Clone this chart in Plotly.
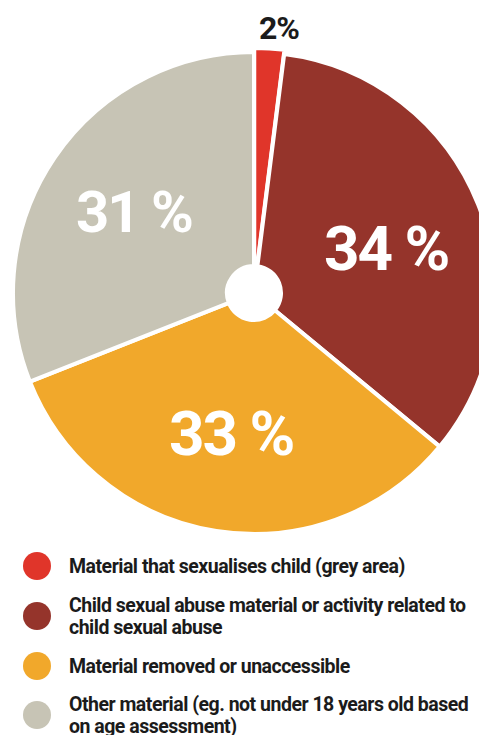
import math
import plotly.graph_objects as go

# ---- data ----
categories = [
    "Material that sexualises child (grey area)",
    "Child sexual abuse material or activity related to child sexual abuse",
    "Material removed or unaccessible",
    "Other material (eg. not under 18 years old based on age assessment)",
]
values = [2, 34, 33, 31]
value_labels = ["2%", "34 %", "33 %", "31 %"]
legend_lines = [
    ["Material that sexualises child (grey area)"],
    ["Child sexual abuse material or activity related to", "child sexual abuse"],
    ["Material removed or unaccessible"],
    ["Other material (eg. not under 18 years old based", "on age assessment)"],
]

# ---- styles ----
colors = ["#E0352A", "#95342B", "#F1A82B", "#C7C4B5"]
FONT = "Roboto, Liberation Sans, sans-serif"
TEXT_DARK = "#1b1b1b"

OFF = 8.0            # page body offset of the figure div
W, H = 500, 727      # figure size (slightly wider than window so the pie can bleed off the right edge)

def fx(sx):  # screen x -> paper x
    return min(1.0, max(0.0, (sx - OFF) / W))

def fy(sy):  # screen y -> paper y
    return min(1.0, max(0.0, 1 - (sy - OFF) / H))

def tight(text, spacing):
    return '<span style="letter-spacing:%spx">%s</span>' % (spacing, text)

# pie geometry (screen pixels)
cx, cy, r = 254.0, 293.0, 241.0
pulls = [0.017, 0, 0, 0]
half = r * (1 + max(pulls))

fig = go.Figure()
fig.add_trace(go.Pie(
    labels=categories,
    values=values,
    sort=False,
    direction="clockwise",
    rotation=0,
    pull=pulls,
    hole=27.0 / r,
    marker=dict(colors=colors, line=dict(color="white", width=4)),
    textinfo="none",
    hoverinfo="label+percent",
    showlegend=False,
    domain=dict(x=[fx(cx - half), fx(cx + half)],
                y=[fy(cy + half), fy(cy - half)]),
))

annotations = []
shapes = []
total = sum(values)
cum = 0.0
label_sizes = [32, 62, 62, 58]
label_spacing = [-1, -2, -2, -2]
label_radius = [1.10, 0.59, 0.59, 0.60]
for i, v in enumerate(values):
    mid = (cum + v / 2.0) / total * 2 * math.pi
    cum += v
    f = label_radius[i]
    px = cx + f * r * math.sin(mid) + (8 if i == 0 else 0)
    py = cy - f * r * math.cos(mid) + (8 if i == 1 else 0)
    annotations.append(dict(
        x=fx(px), y=fy(py), xref="paper", yref="paper",
        text=tight(value_labels[i], label_spacing[i]), showarrow=False,
        xanchor="center", yanchor="middle",
        font=dict(family=FONT, size=label_sizes[i],
                  color=TEXT_DARK if i == 0 else "white", weight="bold"),
    ))

# ---- custom legend with circular markers ----
legend_y = [566, 616, 666, 715]
line_gap = 22
for i, lines in enumerate(legend_lines):
    yc = legend_y[i]
    shapes.append(dict(
        type="circle", xref="paper", yref="paper",
        x0=fx(37 - 14), x1=fx(37 + 14),
        y0=fy(yc + 14), y1=fy(yc - 14),
        fillcolor=colors[i], line=dict(width=0),
    ))
    n = len(lines)
    for j, t in enumerate(lines):
        ly = yc + (j - (n - 1) / 2.0) * line_gap
        annotations.append(dict(
            x=fx(67), y=fy(ly), xref="paper", yref="paper",
            text=tight(t, -0.5), showarrow=False, xanchor="left", yanchor="middle",
            font=dict(family=FONT, size=19.5, color=TEXT_DARK, weight="bold"),
        ))

fig.update_layout(
    width=W, height=H,
    margin=dict(l=0, r=0, t=0, b=0),
    paper_bgcolor="white",
    plot_bgcolor="white",
    annotations=annotations,
    shapes=shapes,
    showlegend=False,
)

fig.write_html("out.html")
